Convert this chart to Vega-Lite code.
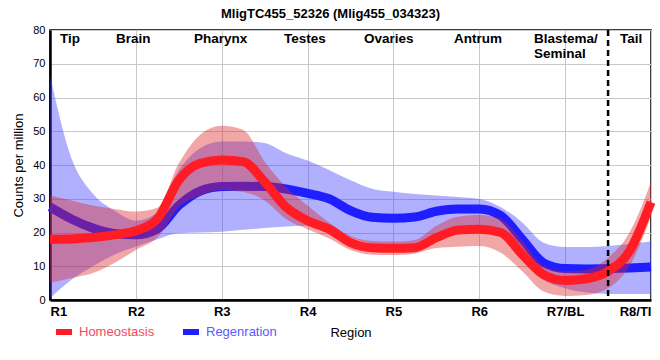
{
  "$schema": "https://vega.github.io/schema/vega-lite/v6.json",
  "width": 601,
  "height": 270,
  "autosize": {"type": "none"},
  "padding": {"left": 50, "top": 30, "right": 9, "bottom": 60},
  "background": "white",
  "title": {"text": "MligTC455_52326 (Mlig455_034323)", "font": "Liberation Sans", "fontSize": 13, "fontWeight": "bold", "color": "black", "anchor": "middle", "dx": -20, "offset": 3},
  "config": {
    "view": {"stroke": "black", "strokeWidth": 1.5},
    "axis": {
      "domainColor": "black", "domainWidth": 2.5, "ticks": false,
      "gridColor": "#c8c8c8", "gridWidth": 1, "gridOpacity": 1,
      "labelFont": "Liberation Sans", "labelColor": "black",
      "titleFont": "Liberation Sans", "titleColor": "black", "titleFontWeight": "normal", "titleFontSize": 13
    }
  },
  "datasets": {
    "curves": [
      {"x": 1, "g": "Homeostasis", "m": 18, "lo": 5.1, "hi": 31},
      {"x": 1.25, "g": "Homeostasis", "m": 18.1, "lo": 6.5, "hi": 29.5},
      {"x": 1.5, "g": "Homeostasis", "m": 18.5, "lo": 8, "hi": 28},
      {"x": 1.75, "g": "Homeostasis", "m": 19.3, "lo": 11, "hi": 27},
      {"x": 2, "g": "Homeostasis", "m": 20.5, "lo": 14.8, "hi": 26.2},
      {"x": 2.25, "g": "Homeostasis", "m": 24, "lo": 18.5, "hi": 27.3},
      {"x": 2.5, "g": "Homeostasis", "m": 35.5, "lo": 27.5, "hi": 40.5},
      {"x": 2.75, "g": "Homeostasis", "m": 40.5, "lo": 31, "hi": 49},
      {"x": 3, "g": "Homeostasis", "m": 41.5, "lo": 32.6, "hi": 51.6},
      {"x": 3.25, "g": "Homeostasis", "m": 41, "lo": 32, "hi": 50.4},
      {"x": 3.5, "g": "Homeostasis", "m": 35, "lo": 29.5, "hi": 41},
      {"x": 3.75, "g": "Homeostasis", "m": 27.5, "lo": 24, "hi": 33.5},
      {"x": 4, "g": "Homeostasis", "m": 23.5, "lo": 21, "hi": 28},
      {"x": 4.25, "g": "Homeostasis", "m": 21, "lo": 18.3, "hi": 23},
      {"x": 4.5, "g": "Homeostasis", "m": 17, "lo": 14.8, "hi": 19},
      {"x": 4.75, "g": "Homeostasis", "m": 15.5, "lo": 13.4, "hi": 17.5},
      {"x": 5, "g": "Homeostasis", "m": 15.3, "lo": 13.3, "hi": 17.3},
      {"x": 5.25, "g": "Homeostasis", "m": 15.5, "lo": 13.8, "hi": 17.8},
      {"x": 5.5, "g": "Homeostasis", "m": 18.5, "lo": 15.4, "hi": 22},
      {"x": 5.75, "g": "Homeostasis", "m": 20.7, "lo": 15.8, "hi": 24.7},
      {"x": 6, "g": "Homeostasis", "m": 21, "lo": 16, "hi": 25.2},
      {"x": 6.25, "g": "Homeostasis", "m": 20, "lo": 14, "hi": 24},
      {"x": 6.5, "g": "Homeostasis", "m": 13.5, "lo": 8.5, "hi": 17.5},
      {"x": 6.75, "g": "Homeostasis", "m": 7.5, "lo": 2.5, "hi": 10},
      {"x": 7, "g": "Homeostasis", "m": 5.8, "lo": 1.2, "hi": 8.5},
      {"x": 7.25, "g": "Homeostasis", "m": 6.3, "lo": 1.5, "hi": 9},
      {"x": 7.5, "g": "Homeostasis", "m": 8.5, "lo": 3.5, "hi": 12.5},
      {"x": 7.75, "g": "Homeostasis", "m": 14.5, "lo": 10, "hi": 20},
      {"x": 8, "g": "Homeostasis", "m": 29, "lo": 24.7, "hi": 35},
      {"x": 1, "g": "Regenration", "m": 27.6, "lo": 0.5, "hi": 66.5},
      {"x": 1.25, "g": "Regenration", "m": 24, "lo": 6, "hi": 42},
      {"x": 1.5, "g": "Regenration", "m": 21.3, "lo": 10, "hi": 31.5},
      {"x": 1.75, "g": "Regenration", "m": 19.7, "lo": 13.5, "hi": 26.5},
      {"x": 2, "g": "Regenration", "m": 19.3, "lo": 15.8, "hi": 23.5},
      {"x": 2.25, "g": "Regenration", "m": 21, "lo": 18, "hi": 26},
      {"x": 2.5, "g": "Regenration", "m": 28, "lo": 19.8, "hi": 38.5},
      {"x": 2.75, "g": "Regenration", "m": 32.3, "lo": 20, "hi": 45},
      {"x": 3, "g": "Regenration", "m": 33.6, "lo": 20.2, "hi": 47},
      {"x": 3.25, "g": "Regenration", "m": 33.7, "lo": 20.8, "hi": 47},
      {"x": 3.5, "g": "Regenration", "m": 33.6, "lo": 21.3, "hi": 46.5},
      {"x": 3.75, "g": "Regenration", "m": 32.9, "lo": 21.8, "hi": 43.5},
      {"x": 4, "g": "Regenration", "m": 31.6, "lo": 22, "hi": 41.3},
      {"x": 4.25, "g": "Regenration", "m": 30, "lo": 21.5, "hi": 38.5},
      {"x": 4.5, "g": "Regenration", "m": 26.5, "lo": 18.5, "hi": 35.5},
      {"x": 4.75, "g": "Regenration", "m": 24.5, "lo": 16.8, "hi": 33},
      {"x": 5, "g": "Regenration", "m": 24.2, "lo": 16.3, "hi": 32.1},
      {"x": 5.25, "g": "Regenration", "m": 24.6, "lo": 16.5, "hi": 31.4},
      {"x": 5.5, "g": "Regenration", "m": 26.3, "lo": 19, "hi": 31},
      {"x": 5.75, "g": "Regenration", "m": 27, "lo": 21.5, "hi": 30.5},
      {"x": 6, "g": "Regenration", "m": 27, "lo": 22, "hi": 29.9},
      {"x": 6.25, "g": "Regenration", "m": 25, "lo": 20.5, "hi": 27.5},
      {"x": 6.5, "g": "Regenration", "m": 18, "lo": 12, "hi": 23},
      {"x": 6.75, "g": "Regenration", "m": 11, "lo": 6, "hi": 17},
      {"x": 7, "g": "Regenration", "m": 9.3, "lo": 3.5, "hi": 15.7},
      {"x": 7.25, "g": "Regenration", "m": 9.2, "lo": 2.2, "hi": 15.7},
      {"x": 7.5, "g": "Regenration", "m": 9.3, "lo": 1.8, "hi": 16},
      {"x": 7.75, "g": "Regenration", "m": 9.5, "lo": 1.8, "hi": 16.6},
      {"x": 8, "g": "Regenration", "m": 9.8, "lo": 1.8, "hi": 17.3}
    ],
    "labels": [
      {"x": 1.116, "y": 76.1, "t": "Tip"},
      {"x": 1.77, "y": 76.1, "t": "Brain"},
      {"x": 2.677, "y": 76.1, "t": "Pharynx"},
      {"x": 3.725, "y": 76.1, "t": "Testes"},
      {"x": 4.657, "y": 76.1, "t": "Ovaries"},
      {"x": 5.705, "y": 76.1, "t": "Antrum"},
      {"x": 6.637, "y": 76.1, "t": "Blastema/\nSeminal"},
      {"x": 7.639, "y": 76.1, "t": "Tail"}
    ],
    "divider": [{"x": 7.5}]
  },
  "encoding": {
    "x": {
      "field": "x", "type": "quantitative",
      "scale": {"domain": [1, 8], "nice": false, "zero": false},
      "axis": {
        "values": [1, 2, 3, 4, 5, 6, 7, 8],
        "labelExpr": "['R1','R2','R3','R4','R5','R6','R7/BL','R8/TI'][datum.value - 1]",
        "labelFontWeight": "bold", "labelFontSize": 13, "labelPadding": 5,
        "title": "Region", "titlePadding": 8
      }
    },
    "y": {
      "type": "quantitative",
      "scale": {"domain": [0, 80], "nice": false},
      "axis": {"values": [0, 10, 20, 30, 40, 50, 60, 70, 80], "labelFontSize": 11, "labelPadding": 5, "title": "Counts per million", "titlePadding": 7}
    }
  },
  "layer": [
    {
      "data": {"name": "curves"},
      "transform": [{"filter": "datum.g == 'Regenration'"}],
      "mark": {"type": "area", "interpolate": "monotone", "color": "#3a3aff", "opacity": 0.4},
      "encoding": {"y": {"field": "lo", "type": "quantitative"}, "y2": {"field": "hi"}}
    },
    {
      "data": {"name": "curves"},
      "transform": [{"filter": "datum.g == 'Regenration'"}],
      "mark": {"type": "line", "interpolate": "monotone", "strokeWidth": 9},
      "encoding": {
        "y": {"field": "m", "type": "quantitative"},
        "color": {
          "field": "g", "type": "nominal",
          "scale": {"domain": ["Homeostasis", "Regenration"], "range": ["#ff1c24", "#1e1eff"]},
          "legend": {
            "orient": "none", "legendX": 3, "legendY": 291, "direction": "horizontal", "title": null,
            "symbolType": "stroke", "symbolStrokeWidth": 6, "symbolSize": 256,
            "labelFont": "Liberation Sans", "labelFontSize": 13, "labelOffset": 4, "columnPadding": 16,
            "labelColor": {"expr": "datum.label == 'Homeostasis' ? '#f04a60' : '#5a5aff'"},
            "padding": 0
          }
        }
      }
    },
    {
      "data": {"name": "curves"},
      "transform": [{"filter": "datum.g == 'Homeostasis'"}],
      "mark": {"type": "area", "interpolate": "monotone", "color": "#dd2222", "opacity": 0.4},
      "encoding": {"y": {"field": "lo", "type": "quantitative"}, "y2": {"field": "hi"}}
    },
    {
      "data": {"name": "curves"},
      "transform": [{"filter": "datum.g == 'Homeostasis'"}],
      "mark": {"type": "line", "interpolate": "monotone", "strokeWidth": 9},
      "encoding": {
        "y": {"field": "m", "type": "quantitative"},
        "color": {"field": "g", "type": "nominal"}
      }
    },
    {
      "data": {"name": "divider"},
      "mark": {"type": "rule", "color": "black", "strokeWidth": 2.5, "strokeDash": [6, 4]},
      "encoding": {}
    },
    {
      "data": {"name": "labels"},
      "mark": {"type": "text", "align": "left", "baseline": "alphabetic", "font": "Liberation Sans", "fontSize": 13.5, "fontWeight": "bold", "color": "black", "lineBreak": "\n", "lineHeight": 15},
      "encoding": {
        "y": {"field": "y", "type": "quantitative"},
        "text": {"field": "t", "type": "nominal"}
      }
    }
  ]
}
